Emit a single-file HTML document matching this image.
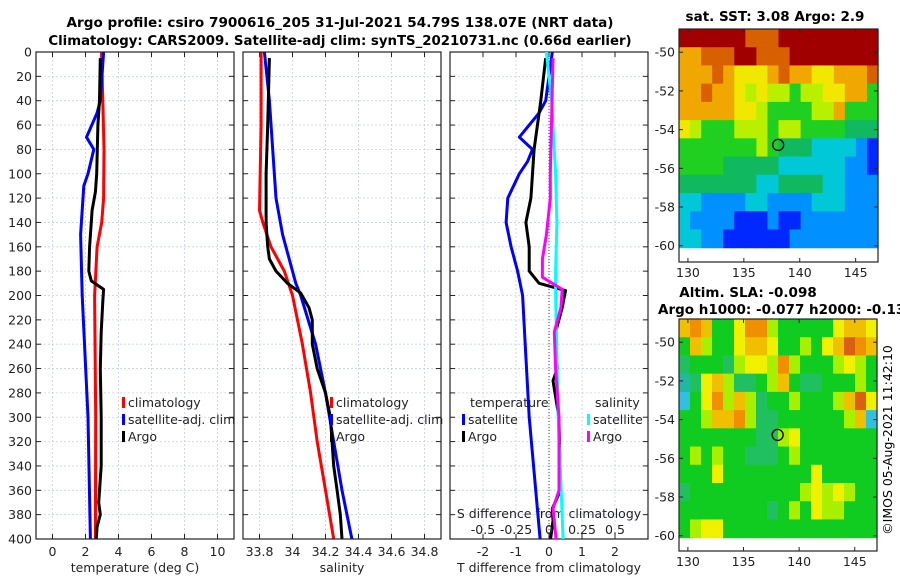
<!DOCTYPE html>
<html><head><meta charset="utf-8">
<style>
html,body{margin:0;padding:0;background:#fff;}
svg{display:block;font-family:"DejaVu Sans","Liberation Sans",sans-serif;}
</style></head>
<body>
<svg id="fig" width="900" height="580" viewBox="0 0 900 580" xmlns="http://www.w3.org/2000/svg">
<rect width="900" height="580" fill="#fff"/>
<text x="340" y="27" text-anchor="middle" font-size="13.6" font-weight="bold">Argo profile: csiro 7900616_205 31-Jul-2021 54.79S 138.07E (NRT data)</text>
<text x="340" y="45" text-anchor="middle" font-size="13.3" font-weight="bold">Climatology: CARS2009. Satellite-adj clim: synTS_20210731.nc (0.66d earlier)</text>
<text x="775" y="21" text-anchor="middle" font-size="13.5" font-weight="bold">sat. SST: 3.08 Argo: 2.9</text>
<text x="748" y="297" text-anchor="middle" font-size="13.5" font-weight="bold">Altim. SLA: -0.098</text>
<text x="658" y="314" font-size="13.5" font-weight="bold">Argo h1000: -0.077 h2000: -0.13</text>
<text transform="translate(892,440) rotate(-90)" text-anchor="middle" font-size="12.5">©IMOS 05-Aug-2021 11:42:10</text>
<g id="plots"></g>
</svg>
<script>
// ---------- data ----------
const depthTicks = [0,20,40,60,80,100,120,140,160,180,200,220,240,260,280,300,320,340,360,380,400];
const tempTicks = [0,2,4,6,8,10];
const salTicks = [33.8,34,34.2,34.4,34.6,34.8];
const salTickLabels = ["33.8","34","34.2","34.4","34.6","34.8"];
const tdiffTicks = [-2,-1,0,1,2];
const sdiffLabels = ["-0.5","-0.25","0","0.25","0.5"];
const sdiffTicks = [-0.5,-0.25,0,0.25,0.5];

const climTDepth = [0,40,80,120,140,160,200,300,400];
const climT = [2.97,3.05,3.12,3.1,2.98,2.7,2.55,2.62,2.6];
const satTDepth = [0,40,50,70,80,100,110,150,200,300,400];
const satT = [3.1,2.9,2.7,2.06,2.5,2.15,1.9,1.7,1.8,2.15,2.3];
const argoTDepth = [5,40,60,100,115,130,160,180,188,195,205,230,260,300,340,370,380,390,400];
const argoT = [2.9,2.85,2.75,2.68,2.6,2.4,2.25,2.2,2.35,3.1,3.05,2.95,2.9,2.95,2.95,2.8,2.9,2.7,2.65];

const climSDepth = [0,60,130,140,160,180,200,240,280,320,360,400];
const climS = [33.81,33.81,33.8,33.82,33.87,33.95,34.0,34.06,34.11,34.15,34.2,34.25];
const satSDepth = [0,40,120,150,190,200,240,280,320,360,400];
const satS = [33.83,33.86,33.9,33.94,34.02,34.05,34.14,34.2,34.25,34.3,34.36];
const argoSDepth = [5,60,100,140,160,170,180,190,198,210,220,240,260,280,300,340,360,380,400];
const argoS = [33.86,33.85,33.84,33.84,33.85,33.86,33.9,33.97,34.05,34.1,34.12,34.12,34.15,34.2,34.23,34.25,34.27,34.29,34.3];

const dTsatDepth = [0,40,50,70,80,90,100,120,140,160,180,200,240,300,400];
const dTsat = [0.1,-0.1,-0.3,-0.9,-0.5,-0.65,-0.9,-1.25,-1.3,-1.15,-0.95,-0.8,-0.72,-0.6,-0.27];
const dTargoDepth = [5,40,80,100,120,140,160,180,190,196,210,230,260,270,300,360,375,385,400];
const dTargo = [-0.1,-0.25,-0.45,-0.5,-0.55,-0.7,-0.6,-0.6,-0.3,0.5,0.4,0.2,0.25,0.12,0.3,0.35,0.1,0.12,0.05];
const dSsatDepth = [0,40,100,140,180,200,300,400];
const dSsat = [-0.02,0.02,0.05,0.06,0.05,0.05,0.07,0.107];
const dSargoDepth = [5,100,120,150,170,185,195,210,230,260,300,360,375,385,400];
const dSargo = [0.03,0.01,0.01,-0.02,-0.05,-0.05,0.1,0.09,0.04,0.05,0.076,0.076,0.03,0.04,0.053];

const mapLonTicks = [130,135,140,145];
const mapLatTicks = [-50,-52,-54,-56,-58,-60];
const sstGrid = [
[10,10,10,10,10,10,9,9,9,10,10,10,10,10,10,10,10,10],
[8,8,9,9,9,10,10,9,9,9,10,10,10,10,10,10,10,10],
[8,8,8,9,8,7,7,7,8,9,8,8,7,7,8,8,8,9],
[8,8,9,8,8,7,6,7,6,6,5,6,6,7,7,8,8,5],
[8,8,8,8,8,7,7,6,5,5,5,5,6,6,8,5,5,5],
[7,6,5,5,5,6,6,6,5,6,6,5,5,5,5,4,4,4],
[5,5,5,5,5,5,5,6,5,4,4,4,3,3,3,3,2,1],
[5,5,5,5,4,4,4,4,4,3,3,3,3,3,3,2,2,1],
[4,4,4,4,4,4,4,3,3,4,4,4,4,3,3,2,2,2],
[3,3,2,2,2,2,3,3,2,2,2,2,3,3,3,2,2,2],
[3,2,2,2,2,1,1,1,2,1,1,2,2,2,2,2,2,2],
[3,3,2,2,1,1,1,1,1,1,2,2,2,2,2,2,2,2]];
const slaGrid = [
[6,7,6,3,3,5,7,7,4,3,3,3,3,3,5,6,6,5],
[3,6,4,3,3,5,6,6,5,3,3,4,3,5,6,8,7,6],
[2,3,3,3,2,4,5,5,4,7,4,3,3,3,4,5,4,3],
[1,2,5,6,4,2,2,3,4,6,3,2,2,3,3,3,4,3],
[0,3,5,7,4,6,4,2,3,3,4,3,3,3,4,6,8,5],
[3,3,4,6,6,7,4,2,2,3,3,3,3,3,3,4,6,0],
[3,3,3,3,3,3,3,2,2,4,5,3,3,3,3,3,3,3],
[3,4,3,4,3,3,2,2,2,3,4,3,3,3,3,3,3,3],
[3,3,3,5,3,3,3,3,3,3,3,3,5,3,3,3,3,3],
[2,3,3,3,3,3,3,3,3,3,3,4,5,4,5,4,3,3],
[3,3,3,3,3,3,3,3,2,3,4,3,5,4,4,3,3,3],
[3,4,5,5,3,3,3,3,3,3,3,3,3,3,3,3,3,3]];
const argoLon = 138.07, argoLat = -54.79;

// ---------- drawing ----------
const NS="http://www.w3.org/2000/svg";
const root=document.getElementById('plots');
function mk(tag,attrs,parent){const e=document.createElementNS(NS,tag);for(const k in attrs)e.setAttribute(k,attrs[k]);(parent||root).appendChild(e);return e;}
const yTop=52,yBot=539;
const yD=d=>yTop+(yBot-yTop)*d/400;

function panel(name,x0,x1,xmin,xmax){
  const sx=v=>x0+(x1-x0)*(v-xmin)/(xmax-xmin);
  const g=mk('g',{});
  
  
  return {sx,g,x0,x1};
}
function grid(p,xt){
  depthTicks.forEach(d=>{
    const l=mk('line',{x1:p.x0,x2:p.x1,y1:yD(d),y2:yD(d),stroke:'#c8cfe8','stroke-width':0.8,'stroke-dasharray':'2,2'},p.g);
    
    [[p.x0,p.x0+5],[p.x1-5,p.x1]].forEach(a=>mk('line',{x1:a[0],x2:a[1],y1:yD(d),y2:yD(d),stroke:'#222','stroke-width':1},p.g));
  });
  xt.forEach(v=>{
    const l=mk('line',{x1:p.sx(v),x2:p.sx(v),y1:yTop,y2:yBot,stroke:'#c8cfe8','stroke-width':0.8,'stroke-dasharray':'2,2'},p.g);
    
    mk('line',{x1:p.sx(v),x2:p.sx(v),y1:yBot,y2:yBot-5,stroke:'#222'},p.g);
    mk('line',{x1:p.sx(v),x2:p.sx(v),y1:yTop,y2:yTop+5,stroke:'#222'},p.g);
  });
}
function frame(p){const r=mk('rect',{x:p.x0,y:yTop,width:p.x1-p.x0,height:yBot-yTop,fill:'none',stroke:'#222','stroke-width':1.2},p.g);}
function series(p,xs,ds,col,name,w){
  const pts=xs.map((v,i)=>p.sx(v).toFixed(1)+','+yD(ds[i]).toFixed(1)).join(' ');
  const l=mk('polyline',{points:pts,fill:'none',stroke:col,'stroke-width':w||3,'stroke-linejoin':'round'},p.g);
  
}
function text(p,x,y,s,anchor,size,name){
  const t=mk('text',{x:x,y:y,'text-anchor':anchor||'start','font-size':size||12.5,fill:'#222'},p.g);
  t.textContent=s;return t;
}
function legend(p,x,y,col,label){
  const r=mk('rect',{x:x,y:y-10,width:3,height:11,fill:col},p.g);
  
  text(p,x+6,y,label,'start',12.5,'legend-entry');
}

// panel 1 temperature
const p1=panel('temperature-panel',36,234,-1,11);
grid(p1,tempTicks);
depthTicks.forEach(d=>text(p1,32,yD(d)+4.5,String(d),'end',12.5,'y-tick-label'));
tempTicks.forEach(v=>text(p1,p1.sx(v),556,String(v),'middle',12.5,'x-tick-label'));
text(p1,135,572,'temperature (deg C)','middle',12.5,'x-axis-title');
series(p1,climT,climTDepth,'#ff0000','climatology-temp-line');
series(p1,satT,satTDepth,'#0000ff','satellite-temp-line');
series(p1,argoT,argoTDepth,'#000','argo-temp-line');
legend(p1,122,407,'#ff0000','climatology');
legend(p1,122,424,'#0000ff','satellite-adj. clim');
legend(p1,122,441,'#000','Argo');
frame(p1);

// panel 2 salinity
const p2=panel('salinity-panel',243,441,33.7,34.9);
grid(p2,salTicks);
salTicks.forEach((v,i)=>text(p2,p2.sx(v),556,salTickLabels[i],'middle',12.5,'x-tick-label'));
text(p2,342,572,'salinity','middle',12.5,'x-axis-title');
series(p2,climS,climSDepth,'#ff0000','climatology-sal-line');
series(p2,satS,satSDepth,'#0000ff','satellite-sal-line');
series(p2,argoS,argoSDepth,'#000','argo-sal-line');
legend(p2,330,407,'#ff0000','climatology');
legend(p2,330,424,'#0000ff','satellite-adj. clim');
legend(p2,330,441,'#000','Argo');
frame(p2);

// panel 3 differences
const p3=panel('difference-panel',450,648,-3,3);
const p3s=panel('sdiff-scale',450,648,-0.75,0.75);
grid(p3,tdiffTicks);
mk('line',{x1:p3.sx(0),x2:p3.sx(0),y1:yTop,y2:yBot,stroke:'#444','stroke-width':1,'stroke-dasharray':'1,2'},p3.g);
tdiffTicks.forEach(v=>text(p3,p3.sx(v),556,String(v),'middle',12.5,'x-tick-label'));
text(p3,549,572,'T difference from climatology','middle',12.5,'x-axis-title');
series(p3,dTsat,dTsatDepth,'#0000ff','satellite-tdiff-line');
series(p3,dTargo,dTargoDepth,'#000','argo-tdiff-line');
series(p3s,dSsat,dSsatDepth,'#00ffff','satellite-sdiff-line');
series(p3s,dSargo,dSargoDepth,'#ff00ff','argo-sdiff-line');
text(p3,470,407,'temperature','start',12.5,'legend-title-temperature');
legend(p3,462,424,'#0000ff','satellite');
legend(p3,462,441,'#000','Argo');
text(p3,595,407,'salinity','start',12.5,'legend-title-salinity');
legend(p3,587,424,'#00ffff','satellite');
legend(p3,587,441,'#ff00ff','Argo');
text(p3,549,518,'S difference from climatology','middle',12.5,'sdiff-axis-title');
sdiffTicks.forEach((v,i)=>text(p3,p3s.sx(v),534,sdiffLabels[i],'middle',12.5,'sdiff-tick-label'));
frame(p3);

// maps
const sstCols=['#00008f','#0028ff','#0090ff','#00c8d8','#10b860','#20d020','#b8f000','#f0e800','#f0a800','#d86000','#a00000'];
const slaCols=['#30c0e0','#20b8a0','#20c060','#10cc20','#a8f000','#f0f000','#f0c000','#f09000','#d86010'];
function map(name,grid,cols,L,R,T,B){
  const lon0=129.2,lon1=147,lat0=-48.8;
  const ppd=19.35;
  const sx=lon=>L+(R-L)*(lon-lon0)/(lon1-lon0);
  const sy=lat=>T+(lat0-lat)*ppd;
  const g=mk('g',{});
  
  const dataBot=sy(-60.1);
  const ncol=grid[0].length,nrow=grid.length;
  const cw=(R-L)/ncol,rh=(dataBot-T)/nrow;
  grid.forEach((row,r)=>row.forEach((v,c)=>{
    const cell=mk('rect',{x:(L+c*cw).toFixed(2),y:(T+r*rh).toFixed(2),width:(cw+0.6).toFixed(2),height:(rh+0.6).toFixed(2),fill:cols[v]},g);
    
  }));
  const c=mk('circle',{cx:sx(argoLon),cy:sy(argoLat),r:5.5,fill:'none',stroke:'#000','stroke-width':1.3},g);
  
  const fr=mk('rect',{x:L,y:T,width:R-L,height:B-T,fill:'none',stroke:'#222','stroke-width':1.2},g);
  
  mapLatTicks.forEach(lat=>{
    mk('line',{x1:L,x2:L+4,y1:sy(lat),y2:sy(lat),stroke:'#222'},g);
    mk('line',{x1:R,x2:R-4,y1:sy(lat),y2:sy(lat),stroke:'#222'},g);
    const t=mk('text',{x:L-4,y:sy(lat)+4.5,'text-anchor':'end','font-size':12.5,fill:'#222'},g);
    t.textContent=String(lat);
  });
  mapLonTicks.forEach(lon=>{
    mk('line',{x1:sx(lon),x2:sx(lon),y1:B,y2:B-4,stroke:'#222'},g);
    mk('line',{x1:sx(lon),x2:sx(lon),y1:T,y2:T+4,stroke:'#222'},g);
    const t=mk('text',{x:sx(lon),y:B+15,'text-anchor':'middle','font-size':12.5,fill:'#222'},g);
    t.textContent=String(lon);
  });
}
map('sst-map',sstGrid,sstCols,679,878,29,262);
map('sla-map',slaGrid,slaCols,679,877,319,551);
</script>
</body></html>
